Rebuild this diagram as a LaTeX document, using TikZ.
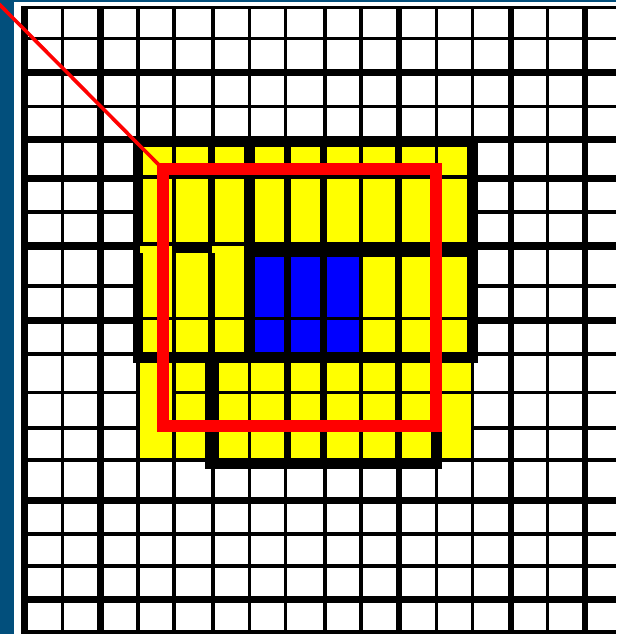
\documentclass[tikz,border=0pt]{standalone}
\definecolor{barblue}{RGB}{2,79,124}
\definecolor{cellyellow}{RGB}{255,255,0}
\definecolor{cellblue}{RGB}{0,0,255}
\definecolor{framered}{RGB}{255,0,0}
\tikzset{
  gridline/.style={fill=black},
  ycell/.style={fill=cellyellow},
  bcell/.style={fill=cellblue},
  zoomframe/.style={draw=framered,line width=12pt,line join=miter},
  zoomline/.style={draw=framered,line width=3.6pt}
}
\begin{document}
\begin{tikzpicture}[x=1pt,y=-1pt]
\useasboundingbox (0,0) rectangle (616,634);
\fill[white] (0,0) rectangle (616,634);
% side bar and top strip
\fill[barblue] (0,0) rectangle (14,634);
\fill[barblue] (14,0) rectangle (616,2);
% grid: vertical lines
\foreach \a/\b in {21/28,61/64,97/104,136/140,172/176,211/215,248/251,284/287,323/327,359/363,396/402,435/438,471/474,508/514,546/549,582/588}
  \path[gridline] (\a,6) rectangle (\b,634);
% grid: horizontal lines
\foreach \a/\b in {6/9,37/40,69/76,105/108,136/143,175/182,210/214,242/250,284/288,317/324,352/356,391/394,426/430,458/462,497/504,532/536,564/568,596/603,630/634}
  \path[gridline] (21,\a) rectangle (616,\b);
% black backgrounds of the windows
\path[gridline] (133,136) rectangle (478,363);
\path[gridline] (136,360) rectangle (474,462);
\path[gridline] (205,458) rectangle (442,469);
% upper window: top rows
\foreach \a/\b in {143/172,176/208,215/244,255/284,291/320,327/359,363/395,402/435,438/467}
  \foreach \c/\d in {147/175,179/242}
    \path[ycell] (\a,\c) rectangle (\b,\d);
% upper window: left part lower rows
\foreach \a/\b in {143/172,176/208,215/244}
  \foreach \c/\d in {253/317,320/352}
    \path[ycell] (\a,\c) rectangle (\b,\d);
\path[ycell] (140,246) rectangle (172,253);
\path[ycell] (212,246) rectangle (244,253);
% upper window: right part lower rows
\foreach \a/\b in {363/395,402/435,438/467}
  \foreach \c/\d in {257/317,320/352}
    \path[ycell] (\a,\c) rectangle (\b,\d);
\foreach \a/\b in {255/284,291/320,327/359}
  \foreach \c/\d in {257/317,320/352}
    \path[bcell] (\a,\c) rectangle (\b,\d);
% lower window
\path[ycell] (140,363) rectangle (172,458);
\foreach \a/\b in {176/205,219/248,251/284,291/320,327/359,363/395,402/431,442/471}
  \foreach \c/\d in {363/391,394/458}
    \path[ycell] (\a,\c) rectangle (\b,\d);
% red zoom frame and its line
\coordinate (framecorner) at (160,166);
\coordinate (lineend) at (-1,4);
\path[zoomframe] (163,169) rectangle (436,426);
\path[zoomline] (lineend) -- (framecorner);
\end{tikzpicture}
\end{document}
